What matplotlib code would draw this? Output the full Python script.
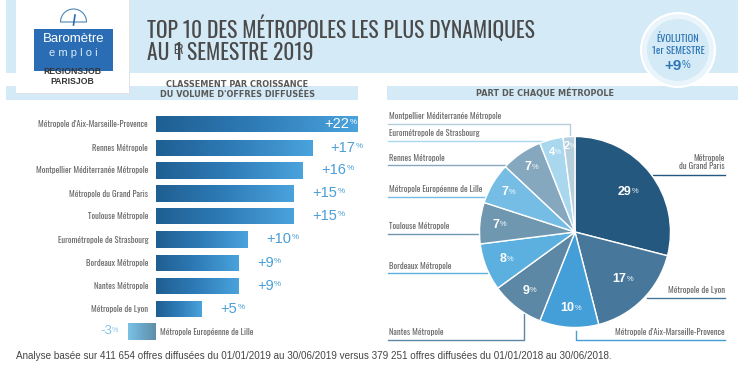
import matplotlib
matplotlib.use("Agg")
import matplotlib.pyplot as plt
from matplotlib.patches import Rectangle, Circle, Wedge
from matplotlib.colors import LinearSegmentedColormap
import numpy as np

plt.rcParams['font.family'] = ['Oswald', 'Liberation Sans', 'DejaVu Sans']

# classement par croissance
villes = ["Métropole d'Aix-Marseille-Provence", "Rennes Métropole",
          "Montpellier Méditerranée Métropole", "Métropole du Grand Paris",
          "Toulouse Métropole", "Eurométropole de Strasbourg",
          "Bordeaux Métropole", "Nantes Métropole", "Métropole de Lyon"]
croissance = [22, 17, 16, 15, 15, 10, 9, 9, 5]
lignes_y = [124, 148, 170.5, 193.5, 216, 239.5, 263, 286, 309]
ville_neg = "Métropole Européenne de Lille"
val_neg = -3

# part de chaque metropole
parts = [29, 17, 10, 9, 8, 7, 7, 7, 4, 2]
couleurs = ["#25587f", "#47789b", "#449ed8", "#5c88a6", "#5cb0e0",
            "#7097b0", "#76bde6", "#85a8bf", "#a9d7ee", "#b6cfdd"]
rayons_txt = [0.69, 0.70, 0.80, 0.78, 0.78, 0.80, 0.82, 0.82, 0.86, 0.90]

gris = "#6a6a6a"
bleu = "#4a9fd6"
W, H = 750, 375
FS_LAB = 6.2


def ax_px(x0, y0, x1, y1, zorder=2):
    # axes placee en pixels image (y vers le bas)
    a = fig.add_axes([x0 / W, 1 - y1 / H, (x1 - x0) / W, (y1 - y0) / H], zorder=zorder)
    a.patch.set_alpha(0)
    return a


def valeur(a, x, y, txt, c, fs=10.5):
    t = a.text(x, y, txt, color=c, fontsize=fs, family="Liberation Sans", ha="left", va="center")
    a.annotate("%", xy=(1.02, 0.62), xycoords=t, color=c, fontsize=fs * 0.55,
               family="Liberation Sans", va="center", ha="left")
    return t


fig = plt.figure(figsize=(7.5, 3.75), dpi=100)

# fond : bandeaux, logo, textes
bg = ax_px(0, 0, W, H, zorder=1)
bg.set_xlim(0, W)
bg.set_ylim(H, 0)
bg.axis("off")
bande = "#d4eaf6"
bg.add_patch(Rectangle((6, 0), 732, 73, color=bande, lw=0))
bg.add_patch(Rectangle((6, 86), 352, 14, color=bande, lw=0))
bg.add_patch(Rectangle((387, 86), 351, 14, color=bande, lw=0))
bg.add_patch(Rectangle((17, 0), 113, 94, fc="#e2e2e2", lw=0))
bg.add_patch(Rectangle((16, 0), 113, 93, fc="white", lw=0))
bg.add_patch(Rectangle((34, 29), 79, 42, fc="#2a6db5", lw=0))
bg.text(73.5, 39.5, "Baromètre", color="white", fontsize=9.5, family="Liberation Sans",
        ha="center", va="center")
bg.text(73.5, 52.5, "e m p l o i", color="#d8ecf8", fontsize=8, family="Liberation Sans",
        ha="center", va="center")
bg.text(72, 72, "REGIONSJOB", color="#333333", fontsize=6.2, weight="bold",
        family="Liberation Sans", ha="center", va="center")
bg.text(72, 81, "PARISJOB", color="#333333", fontsize=6.2, weight="bold",
        family="Liberation Sans", ha="center", va="center")
# jauge du logo
bg.add_patch(Wedge((73.5, 22), 13, 180, 360, fc="none", ec="#4a86b8", lw=0.8))
bg.plot([73.5, 75], [25, 15], color="#2a6db5", lw=1.2)

bg.text(147, 28, "TOP 10 DES MÉTROPOLES LES PLUS DYNAMIQUES", color="#4a4a4a", fontsize=15.5,
        ha="left", va="center")
bg.text(147, 53, "AU 1", color="#4a4a4a", fontsize=15.5, ha="left", va="center")
bg.text(173, 50, "ER", color="#4a4a4a", fontsize=8, ha="left", va="center")
bg.text(187, 53, "SEMESTRE 2019", color="#4a4a4a", fontsize=15.5, ha="left", va="center")

# pastille evolution
bg.add_patch(Circle((678, 50), 37, fc="#eaf5fb", ec="white", lw=1.5, zorder=3))
bg.add_patch(Circle((678, 50), 31, fc="#d4eaf6", ec="none", zorder=3))
bg.text(678, 39, "ÉVOLUTION", color="#2e76b6", fontsize=7.5, weight="bold", ha="center", va="center", zorder=4)
bg.text(678, 51, "1er SEMESTRE", color="#2e76b6", fontsize=7.5, weight="bold", ha="center", va="center", zorder=4)
t = bg.text(673, 66, "+9", color="#2e76b6", fontsize=11, weight="bold", family="Liberation Sans",
            ha="center", va="center", zorder=4)
bg.annotate("%", xy=(1.02, 0.55), xycoords=t, color="#2e76b6", fontsize=7, family="Liberation Sans",
            va="center", zorder=4)

bg.text(237, 84.5, "CLASSEMENT PAR CROISSANCE", color="#5a5a5a", fontsize=5.9, weight="bold",
        family="DejaVu Sans", ha="center", va="center", zorder=5)
bg.text(238, 94.5, "DU VOLUME D'OFFRES DIFFUSÉES", color="#5a5a5a", fontsize=5.9, weight="bold",
        family="DejaVu Sans", ha="center", va="center", zorder=5)
bg.text(545, 93.5, "PART DE CHAQUE MÉTROPOLE", color="#5a5a5a", fontsize=5.9, weight="bold",
        family="DejaVu Sans", ha="center", va="center", zorder=5)
bg.text(16, 356, "Analyse basée sur 411 654 offres diffusées du 01/01/2019 au 30/06/2019 versus "
        "379 251 offres diffusées du 01/01/2018 au 30/06/2018.", color="#444444", fontsize=7.1,
        family="Liberation Sans", ha="left", va="center")

# barres : 1 unite = 9.18 px
ax = ax_px(156, 100, 398, 345, zorder=2)
cm = LinearSegmentedColormap.from_list("b", ["#1f5f92", "#2f7cb8", "#4aa3dc"])
grad = np.linspace(0, 1, 200).reshape(1, -1)
for i in range(len(villes)):
    y = lignes_y[i]
    bar = ax.barh(y, croissance[i], height=16.5, color="none", lw=0)[0]
    im = ax.imshow(grad, cmap=cm, aspect="auto",
                   extent=(0, croissance[i], y + 8.25, y - 8.25), zorder=2)
    im.set_clip_path(bar)
    if i == 0:
        valeur(ax, croissance[i] - 3.7, y, "+%d" % croissance[i], "white")
    else:
        valeur(ax, croissance[i] + 2.0, y, "+%d" % croissance[i], bleu)
    bg.text(148, y, villes[i], color=gris, fontsize=FS_LAB, ha="right", va="center")
ax.set_xlim(0, (398 - 156) / 9.18)
ax.set_ylim(345, 100)
ax.axis("off")

# barre negative (Lille), a part
ax2 = ax_px(100, 320, 156, 343, zorder=2)
cm2 = LinearSegmentedColormap.from_list("n", ["#7cc2e6", "#6aa6c8", "#5f8fa8"])
bar = ax2.barh(331.5, val_neg, height=17, color="none", lw=0)[0]
im = ax2.imshow(grad, cmap=cm2, aspect="auto", extent=(val_neg, 0, 340, 323), zorder=2)
im.set_clip_path(bar)
ax2.set_xlim(val_neg * 56 / 28, 0)
ax2.set_ylim(343, 320)
ax2.axis("off")
valeur(bg, 100, 331.5, "%d" % val_neg, "#82c4e8", fs=9.5)
bg.text(160.5, 331.5, ville_neg, color=gris, fontsize=FS_LAB, ha="left", va="center")

# camembert
cx, cy, r = 575, 232, 95.5
pie = ax_px(cx - r, cy - r, cx + r, cy + r, zorder=2)
wedges, _ = pie.pie(parts, colors=couleurs, startangle=90, counterclock=False, radius=1,
                    wedgeprops=dict(edgecolor="white", linewidth=1.0))
pie.set_xlim(-1, 1)
pie.set_ylim(-1, 1)
for w, p, rr in zip(wedges, parts, rayons_txt):
    a = np.radians((w.theta1 + w.theta2) / 2)
    fs = 9 if p >= 7 else 8
    t = pie.text(rr * np.cos(a) - 0.03, rr * np.sin(a), str(p), color="white", fontsize=fs,
                 weight="bold", family="Liberation Sans", ha="center", va="center")
    pie.annotate("%", xy=(1.02, 0.5), xycoords=t, color="white", fontsize=fs * 0.6,
                 family="Liberation Sans", va="center")

# etiquettes et traits de rappel
etiq = [("Montpellier Méditerranée Métropole", 389, 116, "left", [(388, 124), (570, 124), (570, 136)], couleurs[9]),
        ("Eurométropole de Strasbourg", 389, 133, "left", [(388, 141), (545, 141)], couleurs[8]),
        ("Rennes Métropole", 389, 158, "left", [(388, 165), (505, 165)], couleurs[7]),
        ("Métropole Européenne de Lille", 389, 189, "left", [(388, 197), (488, 197)], couleurs[6]),
        ("Toulouse Métropole", 389, 226, "left", [(388, 234), (480, 234)], couleurs[5]),
        ("Bordeaux Métropole", 389, 266, "left", [(388, 273), (487, 273)], couleurs[4]),
        ("Nantes Métropole", 389, 332, "left", [(388, 340), (524, 340), (524, 314)], couleurs[3]),
        ("Métropole d'Aix-Marseille-Provence", 725, 332, "right", [(725, 340), (576, 340), (576, 331)], couleurs[2]),
        ("Métropole de Lyon", 725, 290, "right", [(725, 298), (647, 298)], couleurs[1]),
        ("Métropole\ndu Grand Paris", 725, 162, "right", [(725, 175), (653, 175)], couleurs[0])]
for txt, x, y, ha, pts, c in etiq:
    bg.text(x, y, txt, color=gris, fontsize=FS_LAB, ha=ha, va="center", linespacing=1.0)
    xs = [p[0] for p in pts]
    ys = [p[1] for p in pts]
    bg.plot(xs, ys, color=c, lw=1)

bg.set_xlim(0, W)
bg.set_ylim(H, 0)
fig.savefig("out.png", dpi=100)
